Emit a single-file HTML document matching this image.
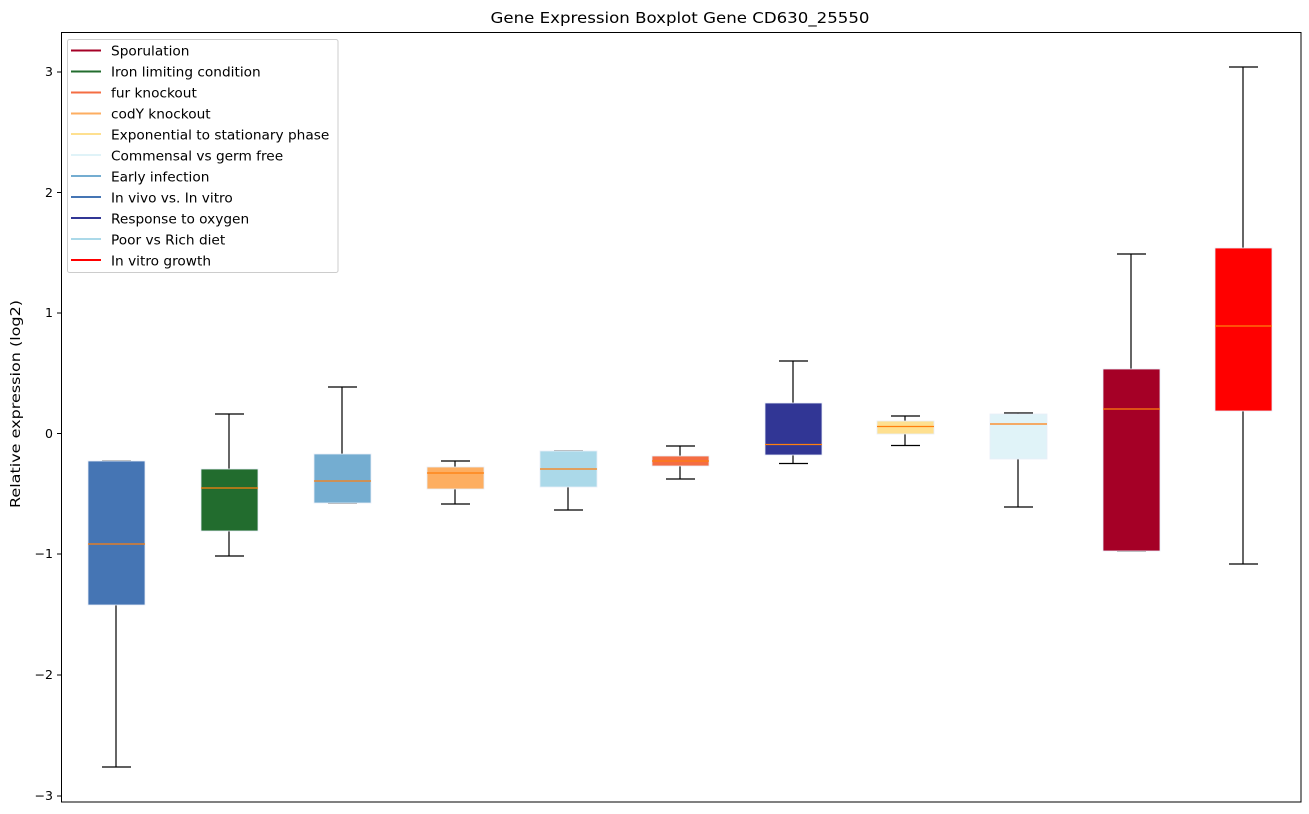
<!DOCTYPE html>
<html><head><meta charset="utf-8"><style>body{margin:0;background:#fff}svg{display:block}text{font-family:"DejaVu Sans","Liberation Sans",sans-serif;fill:#000}</style></head><body>
<svg width="1309" height="814" viewBox="0 0 1309 814" xmlns="http://www.w3.org/2000/svg">
<rect width="1309" height="814" fill="#fff"/>
<text x="680" y="23" font-size="15" text-anchor="middle" textLength="379" lengthAdjust="spacingAndGlyphs">Gene Expression Boxplot Gene CD630_25550</text>
<g stroke="#000" stroke-width="1" font-size="12">
<line x1="57" y1="72" x2="61" y2="72"/><line x1="57" y1="192.5" x2="61" y2="192.5"/><line x1="57" y1="313" x2="61" y2="313"/><line x1="57" y1="433.5" x2="61" y2="433.5"/><line x1="57" y1="554" x2="61" y2="554"/><line x1="57" y1="675" x2="61" y2="675"/><line x1="57" y1="796" x2="61" y2="796"/>
</g>
<g font-size="12.5" text-anchor="end">
<text x="53" y="76">3</text><text x="53" y="197">2</text><text x="53" y="317">1</text><text x="53" y="438">0</text><text x="53" y="558">−1</text><text x="53" y="679">−2</text><text x="53" y="800">−3</text>
</g>
<text transform="translate(20,404) rotate(-90)" font-size="13" text-anchor="middle" textLength="208" lengthAdjust="spacingAndGlyphs">Relative expression (log2)</text>
<g stroke="#000" stroke-width="1.2" fill="none">
<path d="M116 461V461M102 461H131M116 605V767M102 767H131"/>
<path d="M229 414V469M215 414H244M229 531V556M215 556H244"/>
<path d="M342 387V454M328 387H357M342 503V503M328 503H357"/>
<path d="M455 461V467M441 461H470M455 489V504M441 504H470"/>
<path d="M568 451V451M554 451H583M568 487V510M554 510H583"/>
<path d="M680 446V456M666 446H695M680 466V479M666 479H695"/>
<path d="M793 361V403M779 361H808M793 455V463.5M779 463.5H808"/>
<path d="M905 416V421M891 416H920M905 434V445.5M891 445.5H920"/>
<path d="M1018 413V414M1004 413H1033M1018 459V507M1004 507H1033"/>
<path d="M1131 254V369M1117 254H1146M1131 551V551M1117 551H1146"/>
<path d="M1243 67V248M1229 67H1258M1243 411V564M1229 564H1258"/>
</g>
<g stroke="#e8eef8" stroke-width="0.8">
<rect x="88" y="461" width="57" height="144" fill="#4575b4"/>
<rect x="201" y="469" width="57" height="62" fill="#226c2e"/>
<rect x="314" y="454" width="57" height="49" fill="#74add1"/>
<rect x="427" y="467" width="57" height="22" fill="#fdae61"/>
<rect x="540" y="451" width="57" height="36" fill="#abd9e9"/>
<rect x="652" y="456" width="57" height="10" fill="#f46d43"/>
<rect x="765" y="403" width="57" height="52" fill="#313695"/>
<rect x="877" y="421" width="57" height="13" fill="#fee090"/>
<rect x="990" y="414" width="57" height="45" fill="#e0f3f8"/>
<rect x="1103" y="369" width="57" height="182" fill="#a50026"/>
<rect x="1215" y="248" width="57" height="163" fill="#ff0000"/>
</g>
<g stroke="#ff7f0e" stroke-width="1.2">
<line x1="88" y1="544" x2="145" y2="544"/>
<line x1="201" y1="488" x2="258" y2="488"/>
<line x1="314" y1="481" x2="371" y2="481"/>
<line x1="427" y1="473" x2="484" y2="473"/>
<line x1="540" y1="469" x2="597" y2="469"/>
<line x1="652" y1="461" x2="709" y2="461"/>
<line x1="765" y1="444.5" x2="822" y2="444.5"/>
<line x1="877" y1="426.5" x2="934" y2="426.5"/>
<line x1="990" y1="424" x2="1047" y2="424"/>
<line x1="1103" y1="409" x2="1160" y2="409"/>
<line x1="1215" y1="326" x2="1272" y2="326"/>
</g>
<rect x="61.5" y="32.5" width="1239.5" height="769.5" fill="none" stroke="#000" stroke-width="1"/>
<rect x="67.5" y="39.5" width="270.5" height="233" rx="2" fill="#fff" fill-opacity="0.8" stroke="#ccc"/>
<g stroke-width="2">
<line x1="71" y1="50.5" x2="101" y2="50.5" stroke="#a50026"/>
<line x1="71" y1="71.5" x2="101" y2="71.5" stroke="#226c2e"/>
<line x1="71" y1="92.5" x2="101" y2="92.5" stroke="#f46d43"/>
<line x1="71" y1="113.5" x2="101" y2="113.5" stroke="#fdae61"/>
<line x1="71" y1="134" x2="101" y2="134" stroke="#fee090"/>
<line x1="71" y1="155" x2="101" y2="155" stroke="#e0f3f8"/>
<line x1="71" y1="176" x2="101" y2="176" stroke="#74add1"/>
<line x1="71" y1="197" x2="101" y2="197" stroke="#4575b4"/>
<line x1="71" y1="218" x2="101" y2="218" stroke="#313695"/>
<line x1="71" y1="239" x2="101" y2="239" stroke="#abd9e9"/>
<line x1="71" y1="260" x2="101" y2="260" stroke="#ff0000"/>
</g>
<g font-size="13.7">
<text x="111" y="55.5">Sporulation</text>
<text x="111" y="76.5">Iron limiting condition</text>
<text x="111" y="97.5">fur knockout</text>
<text x="111" y="118.5">codY knockout</text>
<text x="111" y="139.5">Exponential to stationary phase</text>
<text x="111" y="160.5">Commensal vs germ free</text>
<text x="111" y="181.5">Early infection</text>
<text x="111" y="202.5">In vivo vs. In vitro</text>
<text x="111" y="223.5">Response to oxygen</text>
<text x="111" y="244.5">Poor vs Rich diet</text>
<text x="111" y="265.5">In vitro growth</text>
</g>
</svg>
</body></html>
